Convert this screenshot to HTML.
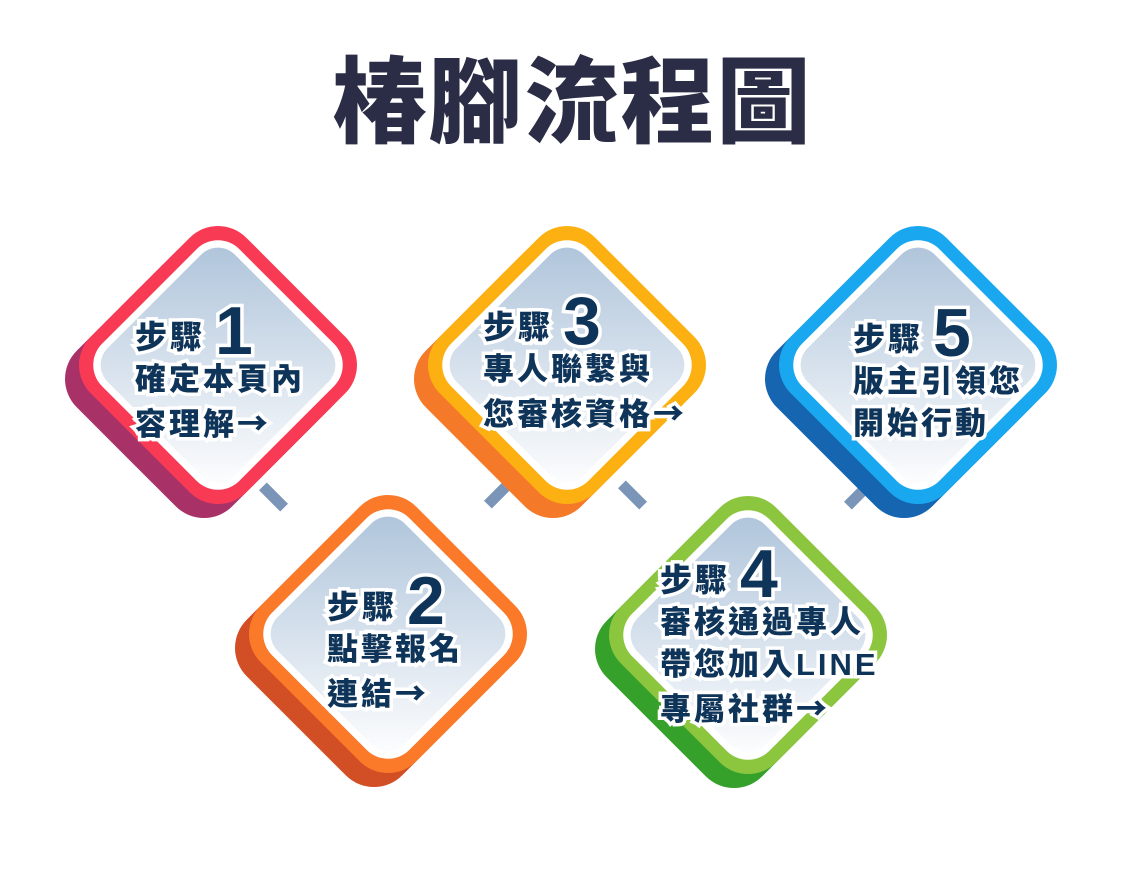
<!DOCTYPE html>
<html><head><meta charset="utf-8">
<style>
body{margin:0;width:1145px;height:870px;background:#fff;position:relative;overflow:hidden;font-family:"Liberation Sans","Noto Sans CJK TC",sans-serif;}
.t{position:absolute;left:0;width:1145px;top:56px;text-align:center;font-size:94px;font-weight:900;color:#2a2d45;letter-spacing:2px;line-height:1;}
.sq{position:absolute;transform:rotate(45deg);}
.stick{position:absolute;width:11px;height:30px;background:#7b95b8;}
.txt{position:absolute;color:#0f3459;font-weight:900;-webkit-text-stroke:7px #fff;paint-order:stroke fill;line-height:42px;font-size:31px;letter-spacing:3px;white-space:nowrap;}
.txt .s{font-size:32px}
.txt .n{font-family:"Liberation Sans",sans-serif;font-size:68px;font-weight:900;vertical-align:-6px;margin-left:10px}
.txt .a{font-family:"Noto Sans CJK TC",sans-serif;}
</style></head><body>
<div class="t">椿腳流程圖</div>
<div id="c"></div>
<script>
const items=[
 {cx:218,cy:365,c:'#f93a55',sh:'#a83268'},
 {cx:567,cy:365,c:'#fdb011',sh:'#f47a2a'},
 {cx:918,cy:365,c:'#19a8f0',sh:'#1565b0'},
 {cx:388,cy:634,c:'#fb7a2a',sh:'#d24e25'},
 {cx:748,cy:635,c:'#8cc63f',sh:'#35a02a'}
];
const c=document.getElementById('c');
[[273,497,-45],[498,494,45],[632,495,-45],[858,495,45]].forEach(([x,y,r])=>{
 const s=document.createElement('div');s.className='stick';
 
 
 s.style.left=(x-5)+'px';s.style.top=(y-15)+'px';s.style.transform='rotate('+r+'deg)';c.appendChild(s);
});
function sq(cx,cy,s,r,bg,name){
 const d=document.createElement('div');d.className='sq';
 
 
 d.style.left=(cx-s/2)+'px';d.style.top=(cy-s/2)+'px';d.style.width=s+'px';d.style.height=s+'px';
 d.style.borderRadius=r+'px';d.style.background=bg;c.appendChild(d);
}
items.forEach((it,i)=>{
 sq(it.cx-14,it.cy+14,220,40,it.sh,'diamond-shadow');
 sq(it.cx,it.cy,220,40,it.c,'diamond-border');
 sq(it.cx,it.cy,194,30,'#fff','diamond-ring');
 sq(it.cx,it.cy,180,24,'linear-gradient(135deg,#adc3da,#ffffff)','diamond-fill');
});
</script>
<div class="txt" style="left:135px;top:310px"><span class="s">步驟</span><span class="n">1</span><br>確定本頁內<br>容理解<span class="a">→</span></div>
<div class="txt" style="left:483px;top:300px"><span class="s">步驟</span><span class="n">3</span><br>專人聯繫與<br>您審核資格<span class="a">→</span></div>
<div class="txt" style="left:853px;top:312px"><span class="s">步驟</span><span class="n">5</span><br>版主引領您<br>開始行動</div>
<div class="txt" style="left:327px;top:580px"><span class="s">步驟</span><span class="n">2</span><br>點擊報名<br>連結<span class="a">→</span></div>
<div class="txt" style="left:660px;top:553px"><span class="s">步驟</span><span class="n">4</span><br>審核通過專人<br>帶您加入LINE<br>專屬社群<span class="a">→</span></div>
</body></html>
